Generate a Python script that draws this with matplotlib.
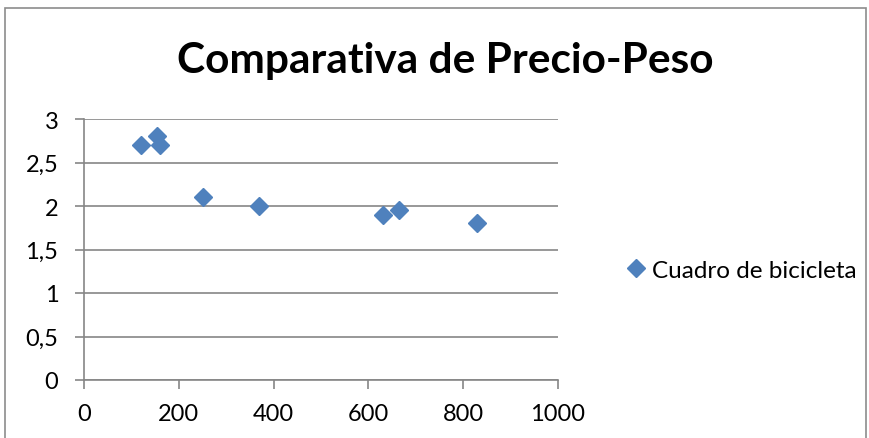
import matplotlib
matplotlib.use("Agg")
import matplotlib.pyplot as plt
import matplotlib.patches as patches

# --- Datos (precio vs peso) ---
precio = [120, 154, 160, 251, 369, 631, 665, 829]
peso = [2.7, 2.8, 2.7, 2.1, 2.0, 1.9, 1.95, 1.8]
serie = "Cuadro de bicicleta"
titulo = "Comparativa de Precio-Peso"
x_ticks = [0, 200, 400, 600, 800, 1000]
y_ticks = [0, 0.5, 1, 1.5, 2, 2.5, 3]
y_labels = ["0", "0,5", "1", "1,5", "2", "2,5", "3"]

plt.rcParams['font.family'] = ['Lato', 'DejaVu Sans']

W, H = 869, 439
fig = plt.figure(figsize=(W / 100, H / 100), dpi=100)
ax = fig.add_axes([84 / W, 1 - 381 / H, (558 - 84) / W, (381 - 120) / H])

gris = '#868686'
azul = '#4F81BD'

# marco exterior del grafico
marco = patches.Rectangle((5 / W, -0.1), (866 - 5) / W, 1.1 - 9 / H,
                          transform=fig.transFigure, fill=False,
                          edgecolor='#8c8c8c', linewidth=1.2)
fig.patches.append(marco)

ax.plot(precio, peso, linestyle='none', marker='D', markersize=9.5,
        color=azul, label=serie, zorder=3)

ax.set_xlim(0, 1000)
ax.set_ylim(0, 3)
ax.set_xticks(x_ticks)
ax.set_yticks(y_ticks)
ax.set_yticklabels(y_labels)
ax.yaxis.grid(True, color=gris, linewidth=1.2)
ax.set_axisbelow(True)

for s in ['top', 'right']:
    ax.spines[s].set_visible(False)
for s in ['left', 'bottom']:
    ax.spines[s].set_color(gris)
    ax.spines[s].set_linewidth(1.2)
ax.tick_params(axis='both', direction='out', length=6.5, width=1.2,
               color=gris, labelsize=17, labelcolor='black')
ax.tick_params(axis='x', pad=10)
ax.tick_params(axis='y', pad=12)

fig.text(445 / W, 1 - 73 / H, titulo, ha='center', va='baseline',
         fontsize=30.5, fontweight='bold')

fig.legend(loc='center left', bbox_to_anchor=(617 / W, 1 - 271 / H),
           frameon=False, fontsize=17.5, handlelength=0.8,
           handletextpad=0.25, borderaxespad=0)

fig.savefig("out.png", dpi=100)
